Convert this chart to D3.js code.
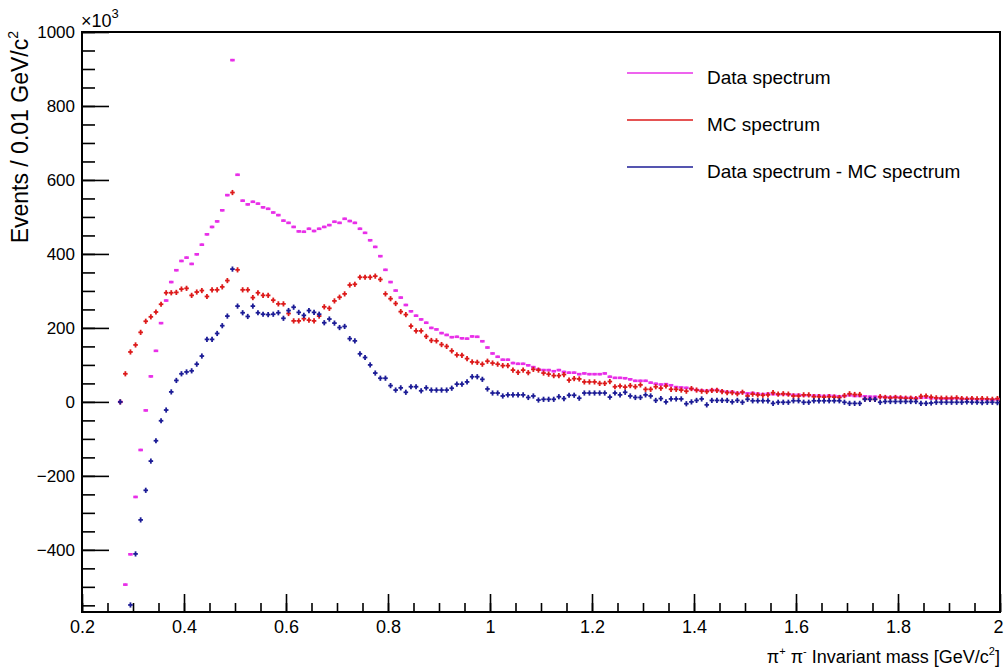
<!DOCTYPE html>
<html>
<head>
<meta charset="utf-8">
<script src="https://cdn.jsdelivr.net/npm/d3@7/dist/d3.min.js"></script>
<style>
  html, body { margin: 0; padding: 0; background: #fff; }
  svg { display: block; font-family: "Liberation Sans", Arial, Helvetica, sans-serif; }
</style>
</head>
<body>
<svg id="chart" width="1004" height="670"></svg>
<script>
// ---------------- data (values in units of 10^3 events per 0.01 GeV/c^2) ----------------
const firstBinCenter = 0.275;   // GeV/c^2
const binWidth = 0.01;          // GeV/c^2

const dataSpectrum = [
  0, -494, -412, -257, -130, -23, 69, 138, 213, 274,
  324, 356, 381, 390, 373, 399, 425, 453, 473, 488,
  518, 559, 924, 614, 544, 534, 541, 536, 526, 522,
  512, 505, 490, 484, 473, 461, 460, 468, 462, 468,
  473, 478, 487, 484, 495, 489, 484, 468, 457, 437,
  419, 394, 357, 324, 301, 282, 262, 245, 233, 223,
  214, 200, 196, 186, 181, 175, 176, 172, 171, 177,
  176, 164, 147, 131, 122, 114, 114, 105, 103, 103,
  99, 94, 88, 86, 86, 83, 86, 81, 79, 79,
  75, 77, 75, 75, 75, 77, 68, 65, 65, 64,
  61, 57, 57, 57, 52, 49, 47, 48, 45, 40,
  39, 38, 35, 32, 31, 30, 32, 32, 29, 27,
  27, 24, 26,
  23, 24, 22, 21, 22, 21, 20, 21, 20, 19,
  19, 18, 18, 17, 17, 16, 17, 16, 15, 16,
  18, 16, 16, 15, 14, 14, 13, 13, 12, 13,
  12, 11, 11, 10, 11, 12, 10, 10, 9, 9,
  9, 10, 8, 8, 8, 7, 7, 7, 6, 7
];

const mcSpectrum = [
  0, 76, 135, 154, 188, 218, 230, 243, 264, 295,
  295, 296, 305, 307, 288, 297, 301, 285, 303, 303,
  311, 328, 566, 357, 303, 303, 282, 295, 288, 288,
  275, 265, 265, 239, 219, 219, 225, 221, 219, 232,
  257, 253, 273, 283, 292, 316, 318, 337, 337, 337,
  340, 331, 292, 279, 266, 244, 236, 205, 192, 192,
  177, 166, 165, 155, 150, 138, 127, 126, 117, 108,
  107, 102, 110, 105, 102, 98, 98, 86, 80, 86,
  79, 88, 86, 78, 75, 71, 71, 74, 59, 63,
  62, 54, 54, 54, 50, 50, 55, 41, 43, 40,
  44, 41, 46, 34, 34, 41, 37, 43, 34, 34,
  32, 29, 36, 32, 29, 28, 31, 31, 28, 25,
  25, 22, 26,
  16, 21, 19, 18, 19, 25, 21, 22, 21, 16,
  16, 19, 19, 14, 14, 13, 14, 13, 12, 17,
  22, 20, 20, 8, 7, 7, 14, 12, 11, 12,
  11, 10, 10, 9, 15, 16, 13, 11, 10, 10,
  10, 11, 9, 8, 9, 8, 9, 8, 7, 9
];

const diffSpectrum = [
  0, -575, -549, -411, -319, -239, -160, -105, -51, -22,
  27, 58, 76, 81, 84, 102, 124, 169, 169, 185,
  206, 232, 359, 259, 241, 231, 259, 241, 237, 236,
  237, 241, 226, 247, 256, 242, 234, 247, 242, 237,
  214, 224, 213, 201, 204, 171, 165, 130, 120, 100,
  78, 64, 64, 44, 32, 38, 26, 41, 41, 30,
  38, 32, 32, 32, 32, 37, 48, 48, 54, 68,
  68, 61, 35, 24, 24, 16, 19, 19, 19, 19,
  12, 16, 5, 7, 7, 7, 14, 9, 18, 18,
  10, 24, 24, 24, 24, 24, 13, 24, 19, 26,
  16, 12, 12, 19, 16, 4, 9, 0, 8, 8,
  8, -5, 0, 4, 8, -8, 4, 4, 4, 4,
  0, 4, -1,
  7, 3, 3, 3, 3, -4, -1, -1, -1, 3,
  3, -1, -1, 3, 3, 3, 3, 3, 3, -1,
  -4, -4, -4, 7, 7, 7, -1, 1, 1, 1,
  1, 1, 1, 1, -4, -4, -3, -1, -1, -1,
  -1, -1, -1, 0, -1, -1, -2, -1, -1, -2
];

const seriesNames = ["Data spectrum", "MC spectrum", "Data spectrum - MC spectrum"];
const xTickValues = [0.2, 0.4, 0.6, 0.8, 1.0, 1.2, 1.4, 1.6, 1.8, 2.0];
const yTickValues = [-400, -200, 0, 200, 400, 600, 800, 1000];

// ---------------- layout ----------------
const svg = d3.select("#chart");
const padL = 82, padR = 1000, padT = 32, padB = 612;
const x = d3.scaleLinear().domain([0.2, 2.0]).range([padL, padR]);
const y = d3.scaleLinear().domain([-568, 1000]).range([padB, padT]);

const masses = dataSpectrum.map((_, i) => firstBinCenter + i * binWidth);

svg.append("defs").append("clipPath").attr("id", "plotclip")
  .append("rect").attr("x", padL).attr("y", padT).attr("width", padR - padL).attr("height", padB - padT);

// ---------------- axes ----------------
const fmtX = d => String(+d.toFixed(1));
const fmtY = d3.format("d");
const axisFont = 17;

// y minor
svg.append("g").attr("transform", `translate(${padL},0)`)
  .call(d3.axisLeft(y).tickValues(d3.range(-550, 1001, 50)).tickSizeInner(-13).tickSizeOuter(0).tickFormat(""))
  .call(g => g.select(".domain").remove())
  .call(g => g.selectAll("line").attr("stroke", "#000").attr("stroke-width", 1.6));
// y major
svg.append("g").attr("transform", `translate(${padL},0)`)
  .call(d3.axisLeft(y).tickValues(yTickValues).tickSizeInner(-27).tickSizeOuter(0).tickPadding(7).tickFormat(fmtY))
  .call(g => g.select(".domain").remove())
  .call(g => g.selectAll("line").attr("stroke", "#000").attr("stroke-width", 1.6))
  .call(g => g.selectAll("text").attr("font-size", axisFont).attr("fill", "#000")
    .attr("font-family", "'Liberation Sans', Arial, sans-serif"));

// x minor
svg.append("g").attr("transform", `translate(0,${padB})`)
  .call(d3.axisBottom(x).tickValues(d3.range(0.2, 2.0001, 0.05)).tickSizeInner(-9).tickSizeOuter(0).tickFormat(""))
  .call(g => g.select(".domain").remove())
  .call(g => g.selectAll("line").attr("stroke", "#000").attr("stroke-width", 1.6));
// x major
svg.append("g").attr("transform", `translate(0,${padB})`)
  .call(d3.axisBottom(x).tickValues(xTickValues).tickSizeInner(-18).tickSizeOuter(0).tickPadding(8).tickFormat(fmtX))
  .call(g => g.select(".domain").remove())
  .call(g => g.selectAll("line").attr("stroke", "#000").attr("stroke-width", 1.6))
  .call(g => g.selectAll("text").attr("font-size", 18).attr("fill", "#000")
    .attr("font-family", "'Liberation Sans', Arial, sans-serif"))
  .call(g => g.selectAll("text").filter(d => d === 2.0).attr("dx", -2));

// frame
svg.append("rect").attr("x", padL).attr("y", padT).attr("width", padR - padL).attr("height", padB - padT)
  .attr("fill", "none").attr("stroke", "#000").attr("stroke-width", 2);

// exponent label
const expo = svg.append("text").attr("x", padL - 1).attr("y", 27).attr("font-size", 18).attr("fill", "#000");
expo.append("tspan").text("×10");
expo.append("tspan").attr("font-size", 13).attr("dy", -9).text("3");

// axis titles
const xt = svg.append("text").attr("x", padR).attr("y", 663).attr("text-anchor", "end")
  .attr("font-size", 18).attr("fill", "#000");
xt.append("tspan").text("π");
xt.append("tspan").attr("font-size", 11).attr("dy", -8).text("+");
xt.append("tspan").attr("dy", 8).text(" π");
xt.append("tspan").attr("font-size", 11).attr("dy", -8).text("-");
xt.append("tspan").attr("dy", 8).text(" Invariant mass [GeV/c");
xt.append("tspan").attr("font-size", 11).attr("dy", -8).text("2");
xt.append("tspan").attr("dy", 8).text("]");

const yt = svg.append("text").attr("transform", "translate(28,31) rotate(-90)").attr("text-anchor", "end")
  .attr("font-size", 23).attr("fill", "#000");
yt.append("tspan").text("Events / 0.01 GeV/c");
yt.append("tspan").attr("font-size", 14).attr("dy", -10).text("2");

// ---------------- series ----------------
const series = [
  { name: seriesNames[0], values: dataSpectrum, color: "#e830e8", err: 1.2, sw: 2.6 },
  { name: seriesNames[1], values: mcSpectrum, color: "#dd1a1a", err: 2.6, sw: 1.8 },
  { name: seriesNames[2], values: diffSpectrum, color: "#1c1c96", err: 2.6, sw: 1.8 }
];

const plot = svg.append("g").attr("clip-path", "url(#plotclip)");
series.forEach(s => {
  const g = plot.append("g");
  s.values.forEach((v, i) => {
    const m = masses[i];
    const x0 = x(m - binWidth * 0.45), x1 = x(m + binWidth * 0.45), xc = x(m), yc = y(v);
    g.append("line").attr("x1", x0).attr("x2", x1).attr("y1", yc).attr("y2", yc)
      .attr("stroke", s.color).attr("stroke-width", s.sw);
    g.append("line").attr("x1", xc).attr("x2", xc).attr("y1", yc - s.err).attr("y2", yc + s.err)
      .attr("stroke", s.color).attr("stroke-width", 1.8);
  });
});

// ---------------- legend ----------------
const legendY = [73, 120, 167];
series.forEach((s, i) => {
  svg.append("line").attr("x1", 627).attr("x2", 693).attr("y1", legendY[i]).attr("y2", legendY[i])
    .attr("stroke", s.color).attr("stroke-width", 1.6);
  svg.append("text").attr("x", 707).attr("y", legendY[i] + 11).attr("font-size", 19).attr("fill", "#000")
    .text(s.name);
});
</script>
</body>
</html>
